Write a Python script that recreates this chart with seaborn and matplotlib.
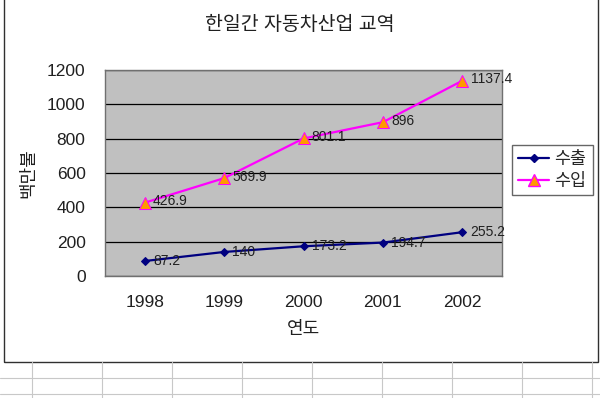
import matplotlib
matplotlib.use("Agg")
import matplotlib.pyplot as plt
import seaborn as sns
import pandas as pd
from matplotlib.patches import Rectangle
from matplotlib.lines import Line2D

years = ["1998", "1999", "2000", "2001", "2002"]
export_vals = [87.2, 140, 173.2, 194.7, 255.2]
import_vals = [426.9, 569.9, 801.1, 896, 1137.4]
series_names = ["수출", "수입"]

df = pd.DataFrame({
    "연도": list(range(len(years))) * 2,
    "값": export_vals + import_vals,
    "구분": [series_names[0]] * len(years) + [series_names[1]] * len(years),
})

sns.set_style("white")
plt.rcParams["font.family"] = ["Liberation Sans", "Noto Sans CJK KR", "DejaVu Sans"]

fig = plt.figure(figsize=(6, 3.98), dpi=100)

# spreadsheet grid behind the chart object
for yy in [378, 394]:
    fig.add_artist(Line2D([0, 1], [1 - yy / 398] * 2, color="#c8c8c8", lw=0.8))
for xx in [32, 102, 172, 242, 312, 382, 452, 522, 592]:
    fig.add_artist(Line2D([xx / 600] * 2, [0, 1 - 362 / 398], color="#c8c8c8", lw=0.8))
fig.add_artist(Rectangle((4 / 600, 1 - 362 / 398), 594 / 600, 362 / 398 + 0.01,
                         fill=False, edgecolor="#303030", lw=1.0))

ax = fig.add_axes([105 / 600, 1 - 276 / 398, 397 / 600, 206 / 398])
ax.set_facecolor("#c0c0c0")

sns.lineplot(data=df, x="연도", y="값", hue="구분", style="구분",
             palette={"수출": "#000080", "수입": "#ff00ff"},
             markers={"수출": "D", "수입": "^"}, dashes=False,
             markersize=5, linewidth=1.6, ax=ax, legend=False)

for line in ax.get_lines():
    if line.get_color() == "#ff00ff":
        line.set_markerfacecolor("#ff9900")
        line.set_markeredgecolor("#ff00ff")
        line.set_markersize(8)
    else:
        line.set_markerfacecolor("#000080")
        line.set_markeredgecolor("#000080")
        line.set_markersize(4)

for i, v in enumerate(export_vals):
    ax.annotate(f"{v:g}", (i, v), xytext=(6, 0), textcoords="offset points",
                fontsize=10, va="center", ha="left", color="#202020")
for i, v in enumerate(import_vals):
    ax.annotate(f"{v:g}", (i, v), xytext=(6, 1), textcoords="offset points",
                fontsize=10, va="center", ha="left", color="#202020",
                annotation_clip=False)

ax.set_xlim(-0.5, len(years) - 0.5)
ax.set_ylim(0, 1200)
ax.set_yticks(range(0, 1201, 200))
ax.set_xticks(range(len(years)))
ax.set_xticklabels(years)
ax.set_xticks([i + 0.5 for i in range(len(years) - 1)], minor=True)
ax.tick_params(axis="x", which="major", length=0, pad=14, labelsize=12.5, colors="#202020")
ax.tick_params(axis="x", which="minor", length=4, direction="in", color="#404040")
ax.tick_params(axis="y", length=0, pad=14, labelsize=12.5, colors="#202020")
ax.grid(axis="y", color="black", lw=0.9)
ax.set_axisbelow(True)
for s in ax.spines.values():
    s.set_color("#707070")
    s.set_linewidth(1.0)

ax.set_xlabel("연도", fontsize=13, color="#202020")
ax.xaxis.set_label_coords(0.5, -45 / 206)
ax.set_ylabel("백만불", fontsize=13, color="#202020")
ax.yaxis.set_label_coords(-68 / 397, 0.5)
fig.text(0.5, 1 - 25 / 398, "한일간 자동차산업 교역", ha="center", va="center",
         fontsize=14, color="#202020")

handles = [
    Line2D([], [], color="#000080", marker="D", markersize=4, lw=1.6),
    Line2D([], [], color="#ff00ff", marker="^", markersize=8, lw=1.6,
           markerfacecolor="#ff9900", markeredgecolor="#ff00ff"),
]
leg = fig.legend(handles, series_names, loc="upper left",
                 bbox_to_anchor=(512 / 600, 1 - 145 / 398), fontsize=12.5,
                 frameon=True, fancybox=False, edgecolor="#404040",
                 handlelength=1.8, borderpad=0.35, labelspacing=0.35,
                 handletextpad=0.3, borderaxespad=0)
leg.get_frame().set_linewidth(1.0)

fig.savefig("out.png", dpi=100, facecolor="white")
